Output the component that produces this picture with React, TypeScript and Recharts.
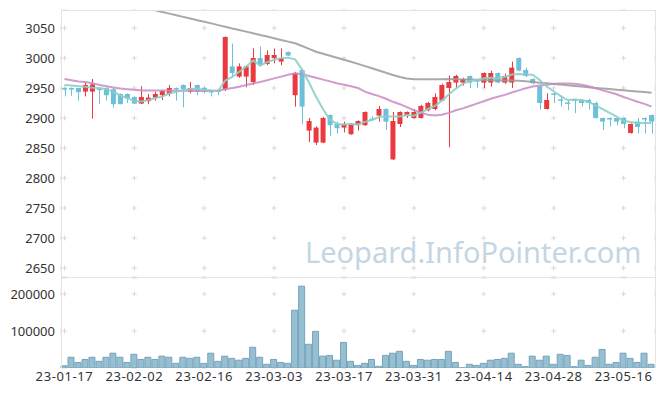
import { ComposedChart, Bar, Line, XAxis, YAxis, CartesianGrid } from 'recharts';

// trading days, KRX calendar
const dates = [
  '23-01-17', '23-01-18', '23-01-19', '23-01-20', '23-01-25', '23-01-26', '23-01-27', '23-01-30', '23-01-31',
  '23-02-01', '23-02-02', '23-02-03', '23-02-06', '23-02-07', '23-02-08', '23-02-09', '23-02-10', '23-02-13',
  '23-02-14', '23-02-15', '23-02-16', '23-02-17', '23-02-20', '23-02-21', '23-02-22', '23-02-23', '23-02-24',
  '23-02-27', '23-02-28', '23-03-02', '23-03-03', '23-03-06', '23-03-07', '23-03-08', '23-03-09', '23-03-10',
  '23-03-13', '23-03-14', '23-03-15', '23-03-16', '23-03-17', '23-03-20', '23-03-21', '23-03-22', '23-03-23',
  '23-03-24', '23-03-27', '23-03-28', '23-03-29', '23-03-30', '23-03-31', '23-04-03', '23-04-04', '23-04-05',
  '23-04-06', '23-04-07', '23-04-10', '23-04-11', '23-04-12', '23-04-13', '23-04-14', '23-04-17', '23-04-18',
  '23-04-19', '23-04-20', '23-04-21', '23-04-24', '23-04-25', '23-04-26', '23-04-27', '23-04-28', '23-05-02',
  '23-05-03', '23-05-04', '23-05-08', '23-05-09', '23-05-10', '23-05-11', '23-05-12', '23-05-15', '23-05-16',
  '23-05-17', '23-05-18', '23-05-19', '23-05-22',
];

const openPrices = [
  2950, 2950, 2950, 2944, 2944, 2949, 2950, 2948, 2940, 2940, 2935, 2924, 2928, 2934, 2938, 2940, 2950, 2955,
  2944, 2955, 2950, 2945, 2946, 2948, 2986, 2969, 2969, 2960, 3000, 2990, 3000, 2994, 3010, 2938, 2980, 2879,
  2859, 2859, 2905, 2890, 2884, 2873, 2888, 2888, 2899, 2904, 2915, 2831, 2890, 2904, 2900, 2900, 2913, 2915,
  2929, 2950, 2959, 2959, 2970, 2963, 2959, 2959, 2975, 2959, 2959, 3000, 2980, 2965, 2953, 2915, 2941, 2931,
  2926, 2931, 2930, 2930, 2925, 2900, 2900, 2900, 2900, 2875, 2894, 2900, 2905,
];
const highPrices = [
  2951, 2951, 2950, 2960, 2965, 2950, 2951, 2950, 2941, 2941, 2936, 2953, 2940, 2944, 2947, 2955, 2951, 2956,
  2960, 2956, 2952, 2946, 2948, 3036, 3024, 2991, 2988, 3016, 3019, 3013, 3016, 3016, 3011, 2977, 2981, 2900,
  2886, 2902, 2906, 2894, 2894, 2891, 2896, 2911, 2903, 2920, 2916, 2910, 2911, 2911, 2915, 2922, 2927, 2941,
  2957, 2971, 2972, 2967, 2971, 2964, 2976, 2979, 2976, 2974, 2994, 3001, 2984, 2966, 2954, 2941, 2942, 2938,
  2930, 2932, 2931, 2932, 2927, 2901, 2901, 2901, 2901, 2891, 2900, 2901, 2906,
];
const lowPrices = [
  2936, 2937, 2929, 2936, 2899, 2923, 2929, 2917, 2923, 2925, 2923, 2923, 2923, 2929, 2930, 2936, 2929, 2918,
  2941, 2938, 2941, 2936, 2938, 2945, 2969, 2967, 2951, 2955, 2986, 2988, 2991, 2988, 3003, 2919, 2890, 2860,
  2855, 2858, 2870, 2874, 2876, 2872, 2879, 2887, 2896, 2894, 2880, 2830, 2885, 2900, 2899, 2899, 2911, 2913,
  2928, 2851, 2950, 2954, 2950, 2950, 2950, 2952, 2958, 2957, 2950, 2978, 2968, 2956, 2914, 2914, 2925, 2919,
  2913, 2908, 2919, 2914, 2899, 2880, 2886, 2888, 2883, 2874, 2874, 2874, 2874,
];
const closePrices = [
  2949, 2949, 2943, 2955, 2956, 2948, 2938, 2923, 2923, 2933, 2924, 2935, 2934, 2940, 2945, 2950, 2949, 2948,
  2950, 2944, 2944, 2944, 2945, 3035, 2975, 2986, 2986, 3000, 2989, 3005, 3005, 3000, 3004, 2975, 2919, 2895,
  2884, 2900, 2888, 2883, 2890, 2890, 2895, 2910, 2898, 2915, 2894, 2895, 2910, 2910, 2910, 2920, 2925, 2935,
  2955, 2960, 2970, 2965, 2959, 2962, 2975, 2975, 2959, 2970, 2984, 2979, 2970, 2958, 2925, 2930, 2940, 2930,
  2925, 2930, 2925, 2925, 2900, 2894, 2899, 2894, 2890, 2890, 2885, 2899, 2894,
];

// moving averages as drawn
const ma5 = [
  2955, 2954, 2953, 2952, 2950.4, 2950.2, 2948, 2944, 2937.6, 2933, 2928.2, 2927.6, 2929.8, 2933.2, 2935.6,
  2940.8, 2943.6, 2946.4, 2948.4, 2948.2, 2947, 2946, 2945.4, 2962.4, 2968.6, 2977, 2985.4, 2996, 2987.2, 2993.2,
  2997, 2999.8, 3000.6, 2997.8, 2980.6, 2958.6, 2935.4, 2914.6, 2897.2, 2890, 2889, 2890.2, 2889.2, 2893.6,
  2896.6, 2901.6, 2902.4, 2902.4, 2902.4, 2904.8, 2903.8, 2909, 2915, 2920, 2929, 2939, 2949, 2957, 2961.8,
  2963.2, 2966.2, 2967.2, 2966, 2968.2, 2972.6, 2973.4, 2972.4, 2972.2, 2963.2, 2952.4, 2944.6, 2936.6, 2930,
  2931, 2930, 2927, 2921, 2914.8, 2908.6, 2902.4, 2895.4, 2893.4, 2891.6, 2891.6, 2891.6,
];
const ma20 = [
  2965, 2963, 2961, 2960, 2958, 2955, 2953, 2951, 2949, 2948, 2947, 2946, 2946, 2946, 2946, 2946, 2945.5, 2945.5,
  2945.5, 2945, 2945, 2945.5, 2946, 2948, 2950, 2952, 2955, 2957.5, 2960, 2963, 2966, 2969, 2972, 2974.5, 2973,
  2970, 2967, 2964, 2961, 2958, 2955.5, 2953, 2950, 2944, 2940, 2936.5, 2932, 2927, 2923, 2918, 2913, 2909,
  2905.5, 2904, 2905.5, 2908.5, 2913, 2916, 2920, 2924, 2928, 2932, 2935.5, 2938.5, 2942.5, 2946, 2949.5,
  2952.5, 2954, 2955.5, 2957, 2957.5, 2957.5, 2957, 2955.5, 2953, 2949.5, 2946, 2943, 2939.5, 2935, 2931, 2927,
  2923.5, 2919,
];
const ma60 = [
  3115, 3112.3, 3109.5, 3106.8, 3104, 3101.3, 3098.7, 3095.8, 3093.2, 3090.3, 3087.7, 3085, 3082.2, 3079.5,
  3076.7, 3074, 3071.3, 3068.5, 3065.8, 3063, 3060.3, 3057.7, 3054.8, 3052.2, 3049.3, 3046.7, 3044, 3041.2,
  3038.3, 3035.7, 3032.8, 3030, 3027.3, 3024.5, 3020, 3015.3, 3010.5, 3007.2, 3003.8, 3000.5, 2997.2, 2993.8,
  2990.2, 2986.5, 2982.8, 2979.2, 2975.5, 2971.7, 2968.3, 2965.8, 2964.7, 2964.5, 2964.5, 2964.5, 2964.7,
  2964.8, 2964.5, 2964.2, 2964, 2963.6, 2963.3, 2963, 2962.8, 2962.6, 2962.4, 2962.2, 2961.2, 2960, 2958.8,
  2957.8, 2956.7, 2955.7, 2954.5, 2953.3, 2952.3, 2951.2, 2950.2, 2949.2, 2948.2, 2947.2, 2946.2, 2945.2,
  2944.2, 2943.2, 2942.2,
];

const volumes = [
  6000, 29000, 15000, 23000, 29000, 18000, 29000, 40000, 29000, 15000, 37000, 23000, 29000, 23000, 32000, 29000,
  12600, 29000, 26000, 29000, 12600, 40000, 18000, 32000, 26000, 21000, 26000, 56000, 29000, 10000, 23000, 15000,
  12600, 156000, 221000, 64000, 99000, 32000, 34000, 21000, 69000, 18000, 7000, 12600, 23000, 4500, 34000, 40000,
  45000, 18000, 7000, 23000, 21000, 23000, 23000, 45000, 15000, 500, 10000, 7000, 12600, 21000, 23000, 26000,
  40000, 10000, 3600, 32000, 21000, 32000, 10000, 37000, 34000, 3600, 21000, 7000, 29000, 50000, 10000, 15000,
  40000, 26000, 15000, 40000, 10000,
];

const priceTicks = [2650, 2700, 2750, 2800, 2850, 2900, 2950, 3000, 3050];
const volumeTicks = [100000, 200000];

const UP = '#ea3a3f';
const DOWN = '#6cc0da';
const FONT = '"Noto Sans", sans-serif';

const data = dates.map((date, i) => ({
  date,
  open: openPrices[i],
  high: highPrices[i],
  low: lowPrices[i],
  close: closePrices[i],
  range: [lowPrices[i], highPrices[i]],
  ma5: ma5[i],
  ma20: ma20[i],
  ma60: ma60[i],
  volume: volumes[i],
}));

// draws wick + body inside the low..high range bar
const Candle = (props: any) => {
  const { x, y, width, height, payload } = props;
  if (x == null || y == null) return null;
  const { open, close, high, low } = payload;
  const top = Math.min(y, y + height);
  const h = Math.abs(height);
  const ratio = high > low ? h / (high - low) : 0;
  const bodyTop = top + (high - Math.max(open, close)) * ratio;
  const bodyH = Math.max(1.5, Math.abs(open - close) * ratio);
  const color = close > open ? UP : DOWN;
  const cx = Math.round(x + width / 2) + 0.5;
  return (
    <g>
      <line x1={cx} x2={cx} y1={top} y2={top + h} stroke={color} strokeWidth={1} />
      <rect x={x} y={bodyTop} width={width} height={bodyH} fill={color} />
    </g>
  );
};

const tickStyle = { fill: '#333', fontSize: 13, fontFamily: FONT };
const xTickStyle = { ...tickStyle, letterSpacing: 0.6 };

export default function App() {
  return (
    <div style={{ position: 'absolute', left: 0, top: 0, width: 665, height: 396, background: '#fff' }}>
      <div style={{ position: 'absolute', left: 0, top: 0 }}>
        <ComposedChart width={665} height={277} data={data} margin={{ top: 10, right: 10, bottom: 0, left: 0 }}>
          <CartesianGrid vertical={false} stroke="#d8d8d8" strokeDasharray="0 1 5 63.88" />
          <CartesianGrid horizontal={false} stroke="#d8d8d8" strokeDasharray="0 15.5 5 9.5" />
          <XAxis dataKey="date" hide interval={9} />
          <YAxis
            domain={[2635, 3080]}
            allowDataOverflow
            ticks={priceTicks}
            width={61}
            axisLine={false}
            tickLine={false}
            tickSize={4}
            tickMargin={2}
            tick={tickStyle}
          />
          <Bar dataKey="range" barSize={5} shape={Candle} isAnimationActive={false} />
          <Line type="linear" dataKey="ma60" stroke="#9a9a9a" strokeWidth={2} strokeOpacity={0.85} dot={false} isAnimationActive={false} />
          <Line type="linear" dataKey="ma20" stroke="#c98ac6" strokeWidth={2} strokeOpacity={0.85} dot={false} isAnimationActive={false} />
          <Line type="linear" dataKey="ma5" stroke="#8dcfc3" strokeWidth={2} strokeOpacity={0.9} dot={false} isAnimationActive={false} />
        </ComposedChart>
      </div>
      <div style={{ position: 'absolute', left: 0, top: 278 }}>
        <ComposedChart width={665} height={114} data={data} margin={{ top: 0, right: 10, bottom: 0, left: 0 }}>
          <CartesianGrid vertical={false} stroke="#d8d8d8" strokeDasharray="0 1 5 63.88" />
          <CartesianGrid horizontal={false} stroke="#d8d8d8" strokeDasharray="0 13.5 5 18.5" />
          <XAxis
            dataKey="date"
            interval={9}
            height={24}
            axisLine={false}
            tickLine={false}
            tickSize={2}
            tickMargin={2}
            tick={xTickStyle}
          />
          <YAxis
            domain={[0, 243000]}
            allowDataOverflow
            ticks={volumeTicks}
            width={61}
            axisLine={false}
            tickLine={false}
            tickSize={4}
            tickMargin={2}
            tick={tickStyle}
          />
          <Bar dataKey="volume" barSize={6} fill="#97bfd2" stroke="#77a3ba" strokeWidth={1} isAnimationActive={false} />
        </ComposedChart>
      </div>
      {/* panel frame */}
      <div
        style={{
          position: 'absolute', left: 61, top: 10, width: 595, height: 358, boxSizing: 'border-box',
          borderTop: '1px solid #e4e4e4', borderLeft: '1px solid #e4e4e4', borderRight: '1px solid #e4e4e4',
          pointerEvents: 'none',
        }}
      />
      <div style={{ position: 'absolute', left: 61, top: 277, width: 595, height: 1, background: '#e4e4e4' }} />
      <div
        style={{
          position: 'absolute', left: 305, top: 235, fontFamily: FONT, fontSize: 29, lineHeight: '34px',
          color: '#c4d6e3', whiteSpace: 'nowrap',
        }}
      >
        Leopard.InfoPointer.com
      </div>
    </div>
  );
}
